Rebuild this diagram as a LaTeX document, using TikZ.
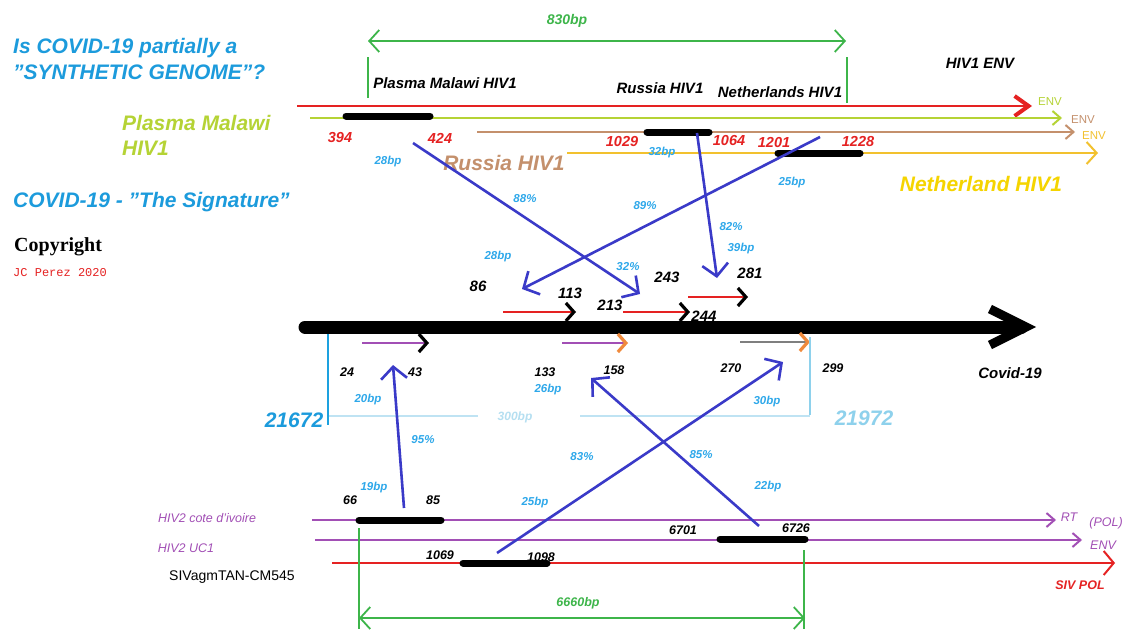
\documentclass[tikz,border=0pt]{standalone}
\usepackage{fontspec}
\setmainfont{Liberation Sans}
\newfontfamily\serifcr{Liberation Serif}
\newfontfamily\monocr{Liberation Mono}
\usetikzlibrary{arrows.meta}
\newcommand\fsz[1]{\fontsize{#1}{#1}\selectfont}
\definecolor{ttlblue}{HTML}{1C9BDC}
\definecolor{lblue}{HTML}{2EA8EA}
\definecolor{arrblue}{HTML}{3A3AC8}
\definecolor{grn}{HTML}{3DB54A}
\definecolor{ygrn}{HTML}{B5D335}
\definecolor{brn}{HTML}{C4906C}
\definecolor{yelline}{HTML}{F2C12E}
\definecolor{yeltxt}{HTML}{F5D400}
\definecolor{purp}{HTML}{A24FB5}
\definecolor{redc}{HTML}{E52222}
\definecolor{cyanA}{HTML}{1DA1DF}
\definecolor{cyanB}{HTML}{8ED1EC}
\definecolor{palec}{HTML}{BFE3F3}
\definecolor{orng}{HTML}{F08A3C}
\definecolor{grayc}{HTML}{7F7F7F}
\tikzset{
  ttl/.style={font=\bfseries\itshape\fsz{21}, inner sep=0pt, anchor=west},
  nm/.style={font=\bfseries\itshape\fsz{15}, inner sep=0pt},
  rnum/.style={font=\bfseries\itshape\fsz{14.5}, text=redc, inner sep=0pt},
  bnum/.style={font=\bfseries\itshape\fsz{15}, inner sep=0pt},
  snum/.style={font=\bfseries\itshape\fsz{12.5}, inner sep=0pt},
  lb/.style={font=\bfseries\itshape\fsz{11.5}, text=lblue, inner sep=0pt},
  envl/.style={font=\fsz{11.5}, inner sep=0pt},
  ptxt/.style={font=\itshape\fsz{12.5}, text=purp, inner sep=0pt},
  blu/.style={draw=arrblue, line width=2.6pt, -{Straight Barb[length=12pt,width=26pt]}},
  bar/.style={line width=7pt, line cap=round, draw=black},
  gene/.style={line width=2pt, -{Straight Barb[length=8pt,width=14pt]}},
  shortarr/.style={line width=2.8pt, -{Straight Barb[length=8pt,width=18pt,line width=3.2pt,color=#1]}},
  dimline/.style={draw=grn, line width=1.8pt},
  dimarr/.style={draw=grn, line width=1.8pt, {Straight Barb[length=10pt,width=22pt]}-{Straight Barb[length=10pt,width=22pt]}},
}
\begin{document}
\begin{tikzpicture}[x=1pt,y=-1pt]
\useasboundingbox (0,0) rectangle (1124,629);
\fill[white] (0,0) rectangle (1124,629);

% ---------- left titles ----------
\node[ttl, text=ttlblue] (t1) at (13,48) {Is COVID-19 partially a};
\node[ttl, text=ttlblue] (t2) at (13,72) {\symbol{34}SYNTHETIC GENOME\symbol{34}?};
\node[ttl, text=ygrn] (pm1) at (122,123) {Plasma Malawi};
\node[ttl, text=ygrn] (pm2) at (122,148) {HIV1};
\node[ttl, text=ttlblue] (sig) at (13,202) {COVID-19 - \symbol{34}The Signature\symbol{34}};
\node[font=\serifcr\bfseries\fsz{20}, anchor=west, inner sep=0pt] (copy) at (14,247) {Copyright};
\node[font=\monocr\fsz{12}, text=redc, anchor=west, inner sep=0pt] (jc) at (13,273) {JC Perez 2020};

% ---------- top dimension ----------
\draw[dimarr] (368,41) coordinate (gL) -- (846,41) coordinate (gR);
\node[font=\bfseries\itshape\fsz{14}, text=grn, inner sep=0pt] (d830) at (567,21) {830bp};
\draw[dimline] (368,57) coordinate (gt1a) -- (368,98) coordinate (gt1b);
\draw[dimline] (847,57) coordinate (gt2a) -- (847,103) coordinate (gt2b);

% ---------- top genes ----------
\draw[redc, line width=2.5pt, -{Straight Barb[length=14pt,width=20pt,line width=4pt]}] (297,106) coordinate (rS) -- (1032,106) coordinate (rE);
\draw[gene, ygrn] (310,118) coordinate (yS) -- (1062,118) coordinate (yE);
\draw[gene, brn] (477,132) coordinate (bS) -- (1075,132) coordinate (bE);
\draw[gene, yelline, -{Straight Barb[length=10pt,width=22pt]}] (567,153) coordinate (oS) -- (1098,153) coordinate (oE);
\draw[bar] (346,116) coordinate (k1a) -- (430,116) coordinate (k1b);
\draw[bar] (647,132) coordinate (k2a) -- (709,132) coordinate (k2b);
\draw[bar] (778,153) coordinate (k3a) -- (860,153) coordinate (k3b);

\node[envl, text=ygrn] (env1) at (1050,102) {ENV};
\node[envl, text=brn] (env2) at (1083,120) {ENV};
\node[envl, text=yelline] (env3) at (1094,136) {ENV};

\node[nm] (lpm) at (445,83) {Plasma Malawi HIV1};
\node[nm] (lru) at (660,88) {Russia HIV1};
\node[nm] (lne) at (780,92) {Netherlands HIV1};
\node[nm] (lenv) at (980,63) {HIV1 ENV};

\node[rnum] (n394) at (340,138) {394};
\node[rnum] (n424) at (440,138) {424};
\node[rnum] (n1029) at (622,142) {1029};
\node[rnum] (n1064) at (729,141) {1064};
\node[rnum] (n1201) at (774,143) {1201};
\node[rnum] (n1228) at (858,142) {1228};

\node[ttl, anchor=center, text=brn] (bru) at (504,163) {Russia HIV1};
\node[ttl, anchor=center, text=yeltxt] (bne) at (981,184) {Netherland HIV1};

% ---------- main covid arrow ----------
\draw[line width=13pt, line cap=round, -{Straight Barb[length=36pt,width=36pt,line width=9pt]}] (305,327) coordinate (cS) -- (1036,327) coordinate (cE);

% short arrows above
\draw[shortarr=black, redc] (503,312) coordinate (r1a) -- (576,312) coordinate (r1b);
\draw[shortarr=black, redc] (623,312) coordinate (r2a) -- (690,312) coordinate (r2b);
\draw[shortarr=black, redc] (688,297) coordinate (r3a) -- (748,297) coordinate (r3b);
% short arrows below
\draw[shortarr=black, purp] (362,343) coordinate (p1a) -- (429,343) coordinate (p1b);
\draw[shortarr=orng, purp] (562,343) coordinate (p2a) -- (628,343) coordinate (p2b);
\draw[shortarr=orng, grayc] (740,342) coordinate (p3a) -- (810,342) coordinate (p3b);

% cyan span
\draw[cyanA, line width=2.5pt] (328,334) coordinate (cy1a) -- (328,425) coordinate (cy1b);
\draw[cyanB, line width=1.5pt] (810,337) coordinate (cy2a) -- (810,415) coordinate (cy2b);
\draw[palec, line width=1.3pt] (329,416) coordinate (h1a) -- (478,416) coordinate (h1b);
\draw[palec, line width=1.3pt] (580,416) coordinate (h2a) -- (810,416) coordinate (h2b);
\node[font=\bfseries\itshape\fsz{12}, text=palec!80!cyanB, inner sep=0pt] (s300) at (515,417) {300bp};
\node[ttl, anchor=center, text=ttlblue] (n21672) at (294,420) {21672};
\node[ttl, anchor=center, text=cyanB] (n21972) at (864,418) {21972};

% ---------- bottom genes ----------
\draw[gene, purp] (312,520) coordinate (q1S) -- (1056,520) coordinate (q1E);
\draw[gene, purp] (315,540) coordinate (q2S) -- (1082,540) coordinate (q2E);
\draw[redc, line width=2pt, -{Straight Barb[length=10pt,width=24pt]}] (332,563) coordinate (q3S) -- (1115,563) coordinate (q3E);
\draw[bar] (359,520) coordinate (k4a) -- (441,520) coordinate (k4b);
\draw[bar] (720,539) coordinate (k5a) -- (805,539) coordinate (k5b);
\draw[bar] (463,563) coordinate (k6a) -- (547,563) coordinate (k6b);

% bottom dimension
\draw[dimline] (359,528) coordinate (gb1a) -- (359,629) coordinate (gb1b);
\draw[dimline] (804,550) coordinate (gb2a) -- (804,629) coordinate (gb2b);
\draw[dimarr] (359,618) coordinate (gbL) -- (805,618) coordinate (gbR);
\node[font=\bfseries\itshape\fsz{12.5}, text=grn, inner sep=0pt] (d6660) at (578,603) {6660bp};

% ---------- blue connectors ----------
\coordinate (a1s) at (413,143); \coordinate (a1e) at (640,294);
\coordinate (a2s) at (820,137); \coordinate (a2e) at (522,289);
\coordinate (a3s) at (697,133); \coordinate (a3e) at (717,278);
\coordinate (b1s) at (404,508); \coordinate (b1e) at (393,365);
\coordinate (b2s) at (497,553); \coordinate (b2e) at (783,362);
\coordinate (b3s) at (759,526); \coordinate (b3e) at (591,378);
\draw[blu] (a1s) -- (a1e);
\draw[blu] (a2s) -- (a2e);
\draw[blu] (a3s) -- (a3e);
\draw[blu] (b1s) -- (b1e);
\draw[blu] (b2s) -- (b2e);
\draw[blu] (b3s) -- (b3e);

% ---------- blue labels ----------
\node[lb] (l1) at (388,162) {28bp};
\node[lb] (l2) at (662,153) {32bp};
\node[lb] (l3) at (792,183) {25bp};
\node[lb] (l4) at (525,199) {88\%};
\node[lb] (l5) at (645,206) {89\%};
\node[lb] (l6) at (731,227) {82\%};
\node[lb] (l7) at (741,249) {39bp};
\node[lb] (l8) at (498,257) {28bp};
\node[lb] (l9) at (628,267) {32\%};
\node[lb] (l10) at (368,400) {20bp};
\node[lb] (l11) at (548,390) {26bp};
\node[lb] (l12) at (767,402) {30bp};
\node[lb] (l13) at (423,440) {95\%};
\node[lb] (l14) at (582,457) {83\%};
\node[lb] (l15) at (701,455) {85\%};
\node[lb] (l16) at (374,488) {19bp};
\node[lb] (l17) at (535,503) {25bp};
\node[lb] (l18) at (768,487) {22bp};

% ---------- black numbers ----------
\node[bnum] (n86) at (478,286) {86};
\node[bnum] (n113) at (570,293) {113};
\node[bnum] (n243) at (667,277) {243};
\node[bnum] (n281) at (750,273) {281};
\node[bnum] (n213) at (610,305) {213};
\node[bnum] (n244) at (704,316) {244};
\node[snum] (n24) at (347,372) {24};
\node[snum] (n43) at (415,372) {43};
\node[snum] (n133) at (545,372) {133};
\node[snum] (n158) at (614,370) {158};
\node[snum] (n270) at (731,368) {270};
\node[snum] (n299) at (833,368) {299};
\node[bnum] (cov) at (1010,373) {Covid-19};
\node[snum] (n66) at (350,500) {66};
\node[snum] (n85) at (433,500) {85};
\node[snum] (n1069) at (440,555) {1069};
\node[snum] (n1098) at (541,557) {1098};
\node[snum] (n6701) at (683,530) {6701};
\node[snum] (n6726) at (796,528) {6726};

% ---------- bottom labels ----------
\node[ptxt] (hc) at (207,518) {HIV2 cote d\symbol{39}ivoire};
\node[ptxt] (hu) at (186,548) {HIV2 UC1};
\node[font=\fsz{14}, inner sep=0pt] (siv) at (232,577) {SIVagmTAN-CM545};
\node[ptxt] (rt) at (1069,517) {RT};
\node[ptxt] (pol) at (1106,523) {(POL)};
\node[ptxt] (env4) at (1103,545) {ENV};
\node[font=\bfseries\itshape\fsz{12.5}, text=redc, inner sep=0pt] (sivpol) at (1080,585) {SIV POL};
\end{tikzpicture}
\end{document}
